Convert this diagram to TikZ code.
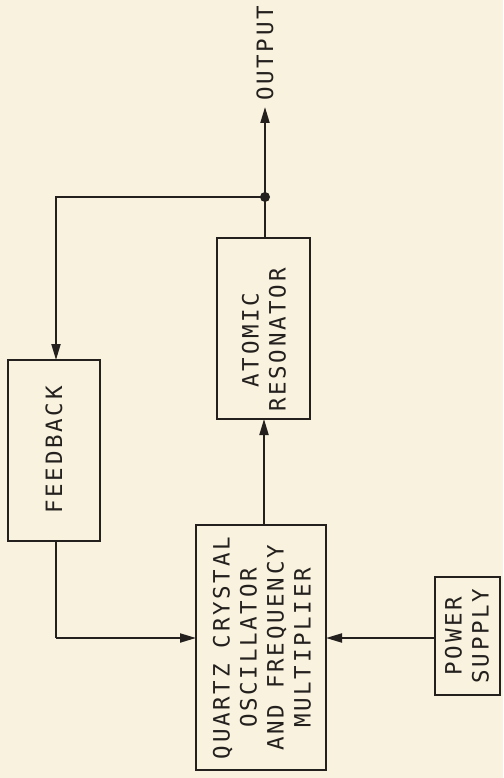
\documentclass[tikz,border=0pt]{standalone}
\usepackage{fontspec}
\newfontfamily\lab[LetterSpace=12]{DejaVu Sans Mono}
\usetikzlibrary{arrows.meta}
\definecolor{paper}{RGB}{248,242,222}
\definecolor{ink}{RGB}{35,32,30}
\begin{document}
\begin{tikzpicture}[x=1pt,y=-1pt,
  box/.style={draw=ink,line width=2.4pt,inner sep=0pt},
  txt/.style={rotate=90,align=center,text=ink,font=\lab\fontsize{22.5}{27}\selectfont},
  conn/.style={draw=ink,line width=2pt},
  arr/.style={conn,-{Triangle[length=16pt,width=9pt]}}]
\fill[paper] (0,0) rectangle (503,778);
\useasboundingbox (0,0) rectangle (503,778);
% boxes
\draw[box] (8,360) rectangle (100,541);
\coordinate (fbT) at (56,360);
\coordinate (fbB) at (56,541);
\node[txt] (fb) at (54,450) {FEEDBACK};
\draw[box] (217,238) rectangle (310,419);
\coordinate (arT) at (265,238);
\coordinate (arB) at (264,419);
\node[txt] (ar) at (264,340) {ATOMIC\\RESONATOR};
\draw[box] (196,525) rectangle (326,770);
\coordinate (qT) at (264,525);
\coordinate (qL) at (196,638);
\coordinate (qR) at (326,638);
\node[txt] (q) at (262,648) {QUARTZ CRYSTAL\\OSCILLATOR\\AND FREQUENCY\\MULTIPLIER};
\draw[box] (435,577) rectangle (500,695);
\coordinate (psL) at (435,638);
\node[txt] (ps) at (467,636) {POWER\\SUPPLY};
% connectors
\coordinate (dot) at (265,197);
\coordinate (outT) at (265,107);
\coordinate (fbC) at (56,197);
\coordinate (fbD) at (56,638);
\node[txt,anchor=west,inner sep=0pt] (out) at (265,101) {OUTPUT};
\draw[conn] (arT) -- (dot);
\draw[arr] (dot) -- (outT);
\draw[arr] (dot) -- (fbC) -- (fbT);
\draw[conn] (fbB) -- (fbD);
\draw[arr] (fbD) -- (qL);
\draw[arr] (qT) -- (arB);
\draw[arr] (psL) -- (qR);
\fill[ink] (dot) circle (5pt);
\end{tikzpicture}
\end{document}
